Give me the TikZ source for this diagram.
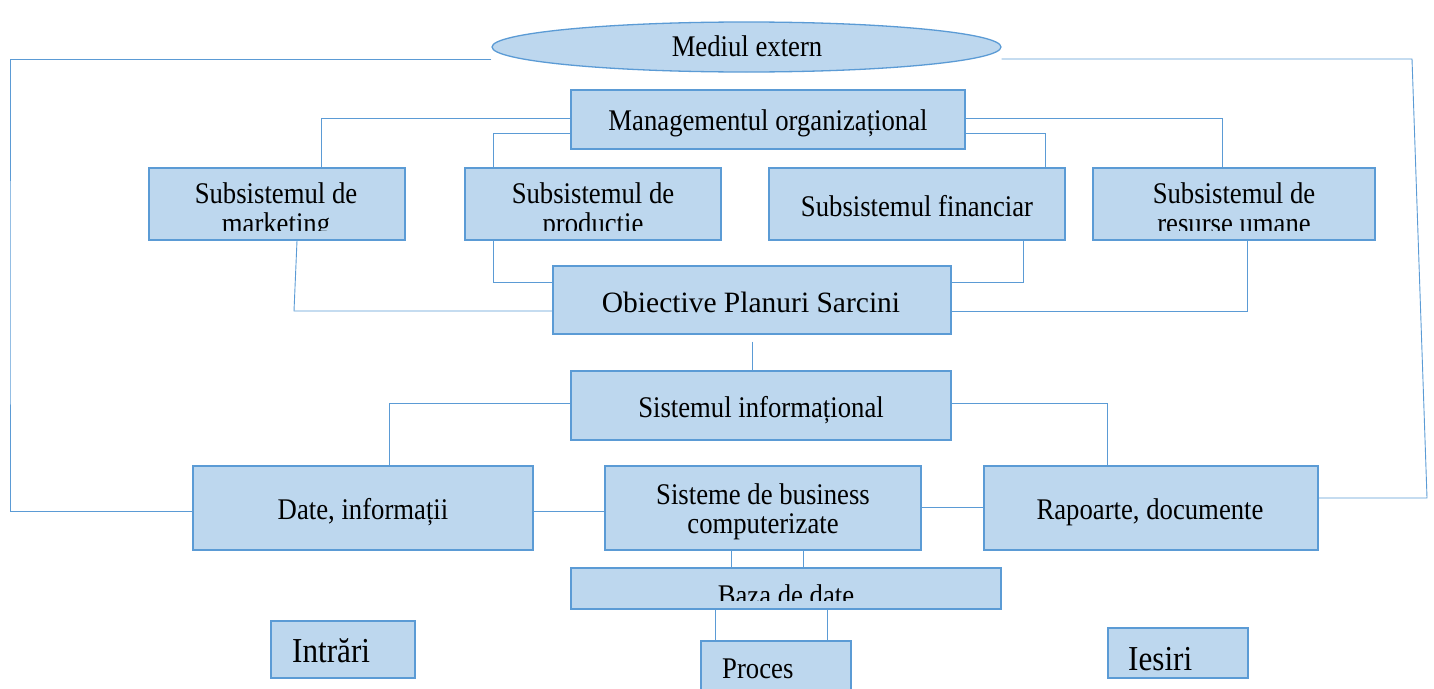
\documentclass[tikz,border=0pt]{standalone}
\usepackage{fontspec}
\setmainfont{Liberation Serif}
\newfontfamily\cond[FakeStretch=0.89]{Liberation Serif}
\usetikzlibrary{calc,shapes.geometric}
\definecolor{boxfill}{HTML}{BDD7EE}
\definecolor{edge}{HTML}{5B9BD5}
\newcommand{\fsz}[1]{\fontsize{#1}{#1}\selectfont}
\begin{document}
\begin{tikzpicture}[x=1pt,y=-1pt,
  box/.style={draw=edge, fill=boxfill, line width=1.3pt, inner sep=0pt},
  link/.style={draw=edge, line width=0.9pt},
  lbl/.style={inner sep=0pt, anchor=base, font=\cond\fsz{30}},
  big/.style={inner sep=0pt, anchor=base west, font=\cond\fsz{35}}]
\useasboundingbox (0,0) rectangle (1434,688);

% environment
\node[box, ellipse, minimum width=509, minimum height=50] (me) at (746.5,47) {};
\node[lbl] (met) at (747,56) {Mediul extern};

% management, subsystems and the information system
\node[box, minimum width=394, minimum height=59] (mg) at (768,119.5) {};
\node[box, minimum width=256, minimum height=72] (mk) at (277,204) {};
\node[box, minimum width=256, minimum height=72] (pr) at (593,204) {};
\node[box, minimum width=296, minimum height=72] (fi) at (917,204) {};
\node[box, minimum width=282, minimum height=72] (hr) at (1234,204) {};
\node[box, minimum width=398, minimum height=68] (ob) at (752,300) {};
\node[box, minimum width=380, minimum height=69] (si) at (761,405.5) {};
\node[box, minimum width=340, minimum height=84] (dt) at (363,508) {};
\node[box, minimum width=316, minimum height=84] (sb) at (763,508) {};
\node[box, minimum width=334, minimum height=84] (rp) at (1151,508) {};
\node[box, minimum width=430, minimum height=41] (bz) at (786,588.5) {};
\node[box, minimum width=144, minimum height=57] (in) at (343,649.5) {};
\node[box, minimum width=150, minimum height=50] (pc) at (776,666) {};
\node[box, minimum width=140, minimum height=50] (ie) at (1178,653) {};

% labels
\node[lbl] at (768,130) {Managementul organizațional};
\node[lbl] at (276,203) {Subsistemul de};
\node[lbl] at (593,203) {Subsistemul de};
\node[lbl] at (1234,203) {Subsistemul de};
\begin{scope}
  \clip (149,168) rectangle (1375,230.5);
  \node[lbl] at (276,233) {marketing};
  \node[lbl] at (593,233) {productie};
  \node[lbl] at (1234,233) {resurse umane};
\end{scope}
\node[lbl] at (917,216) {Subsistemul financiar};
\node[inner sep=0pt, anchor=base, font=\fsz{29.5}] at (751,312) {Obiective Planuri Sarcini};
\node[lbl] at (761,417) {Sistemul informațional};
\node[lbl] at (363,519) {Date, informații};
\node[inner sep=0pt, align=center, font=\cond\fontsize{30}{29}\selectfont]
  at (763,511.5) {Sisteme de business\\computerizate};
\node[lbl] at (1150,519) {Rapoarte, documente};
\begin{scope}
  \clip (571,568) rectangle (1001,600);
  \node[lbl] at (786,605) {Baza de date};
\end{scope}
\node[big] at (292,662) {Intrări};
\node[lbl, anchor=base west] at (722,678) {Proces};
\node[big] at (1128,670) {Iesiri};

% free corners of the outer feedback loop
\coordinate (lft) at (10,300);
\coordinate (rt1) at (1412,59);
\coordinate (rt2) at (1427,498);
\coordinate (mkb) at (294,311);

% connectors
\draw[link] ([yshift=-12pt]me.west) -| (lft) |- ([yshift=-3pt]dt.west);
\draw[link] ([yshift=-12pt]me.east) -- (rt1) -- (rt2) -- ([yshift=10pt]rp.east);

\draw[link] ([yshift=1.5pt]mg.west) -| ([xshift=44pt]mk.north);
\draw[link] ([yshift=-13.5pt]mg.west) -| ([xshift=-100pt]pr.north);
\draw[link] ([yshift=-13.5pt]mg.east) -| ([xshift=128pt]fi.north);
\draw[link] ([yshift=1.5pt]mg.east) -| ([xshift=-12pt]hr.north);

\draw[link] ([xshift=20pt]mk.south) -- (mkb) -- ([yshift=-11pt]ob.west);
\draw[link] ([xshift=-100pt]pr.south) |- ([yshift=18pt]ob.west);
\draw[link] ([xshift=106pt]fi.south) |- ([yshift=18pt]ob.east);
\draw[link] ([xshift=13pt]hr.south) |- ([yshift=-11pt]ob.east);

\draw[link] ([yshift=-7pt]ob.south) -- (ob.south |- si.north);

\draw[link] ([yshift=2.5pt]si.west) -| ([xshift=26pt]dt.north);
\draw[link] ([yshift=2.5pt]si.east) -| ([xshift=-44pt]rp.north);

\draw[link] ([yshift=-3pt]dt.east) -- ([yshift=-3pt]sb.west);
\draw[link] ([yshift=1pt]sb.east) -- ([yshift=1pt]rp.west);

\draw[link] ([xshift=-32pt]sb.south) -- ([xshift=-32pt]sb.south |- bz.north);
\draw[link] ([xshift=40pt]sb.south) -- ([xshift=40pt]sb.south |- bz.north);
\draw[link] ([xshift=-71pt]bz.south) -- ([xshift=-71pt]bz.south |- pc.north);
\draw[link] ([xshift=41pt]bz.south) -- ([xshift=41pt]bz.south |- pc.north);
\end{tikzpicture}
\end{document}
